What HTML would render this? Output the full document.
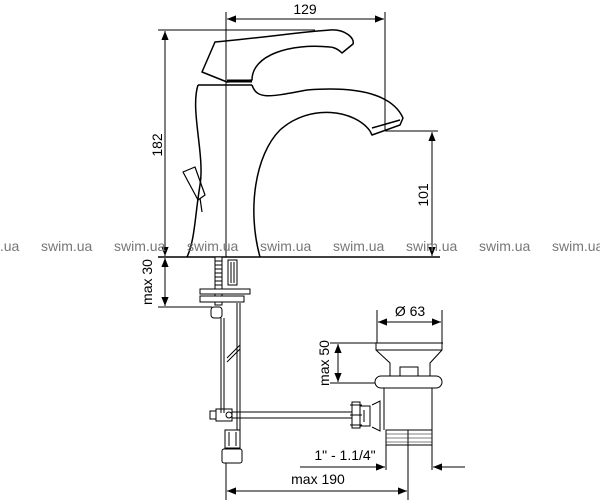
<!DOCTYPE html>
<html><head><meta charset="utf-8"><style>
html,body{margin:0;padding:0;background:#fff;}
svg{display:block;}
text{font-family:"Liberation Sans",sans-serif;}
</style></head><body>
<svg width="600" height="500" viewBox="0 0 600 500" xmlns="http://www.w3.org/2000/svg">
<defs>
<marker id="a" viewBox="0 0 10 10" refX="10" refY="5" markerWidth="9" markerHeight="9" orient="auto-start-reverse" markerUnits="userSpaceOnUse"><path d="M0,1 L10,5 L0,9 z" fill="#000"/></marker>
</defs>
<g fill="none" stroke="#000" stroke-width="1.5" stroke-linejoin="round">
<path d="M215,42 C260,38 300,32 330,30 C345,29 355,38 353,44 L342,53 C336,47 330,47 330,47 C290,43 252,55 252,80 L227,82 L202,72 Z"/>
<line x1="227" y1="81" x2="252" y2="81" stroke-width="3"/>
<path d="M198,85 L252,85"/>
<path d="M252,85 C257,100 270,97 307,90 C370,85 395,100 403,118 L400,125 L372,135 L370,131"/>
<path d="M372,128 L400,120"/>
<path d="M370,131 C355,110 310,103 280,130 C255,155 247,210 260,257"/>
<path d="M198,85 C190,110 205,155 200,185 C195,215 195,240 187,257"/>
<path d="M183,172 L195,167 L205,195 L198,200 Z" stroke-width="1.2"/>
<path d="M200,198 L202,212" stroke-width="1.2"/>
</g>
<g stroke="#000" stroke-width="1" fill="none">
<line x1="226" y1="12" x2="226" y2="257"/>
<line x1="385" y1="12" x2="385" y2="130"/>
<line x1="227" y1="19" x2="384" y2="19" marker-start="url(#a)" marker-end="url(#a)"/>
<line x1="158" y1="30" x2="315" y2="30"/>
<line x1="165" y1="31" x2="165" y2="256" marker-start="url(#a)" marker-end="url(#a)"/>
<line x1="385" y1="131" x2="438" y2="131"/>
<line x1="432" y1="132" x2="432" y2="256" marker-start="url(#a)" marker-end="url(#a)"/>
<line x1="158" y1="257" x2="440" y2="257" stroke-width="1.5"/>
<line x1="165" y1="258" x2="165" y2="306" marker-start="url(#a)" marker-end="url(#a)"/>
<line x1="158" y1="307" x2="212" y2="307"/>
<rect x="215" y="257" width="7" height="48" fill="#fff"/>
<path d="M215,261h7M215,265h7M215,269h7M215,273h7M215,277h7M215,281h7M215,285h7M215,289h7M215,293h7M215,297h7M215,301h7"/>
<rect x="228" y="260" width="9" height="25"/>
<line x1="231" y1="262" x2="231" y2="283"/><line x1="234" y1="262" x2="234" y2="283"/>
<rect x="200" y="289" width="50" height="5" fill="#fff"/>
<rect x="200" y="296" width="44" height="6" fill="#fff"/>
<rect x="211" y="307" width="11" height="11" rx="3"/>
<line x1="221" y1="318" x2="221" y2="413"/><line x1="224" y1="318" x2="224" y2="413"/>
<line x1="237" y1="303" x2="237" y2="430"/><line x1="240" y1="303" x2="240" y2="430"/>
<line x1="227" y1="358" x2="240" y2="345"/><line x1="227" y1="362" x2="240" y2="349"/>
<rect x="210" y="411" width="6" height="8"/>
<rect x="216" y="409" width="16" height="12"/>
<circle cx="229" cy="415" r="3"/>
<line x1="232" y1="412" x2="352" y2="412"/><line x1="232" y1="418" x2="352" y2="418"/>
<path d="M352,402 h8 v26 h-8 z M350,405 h12 M350,415 h12 M350,425 h12"/>
<path d="M360,406 h10 v20 h-10 M364,410 v12 M372,405 l8,-4 v30 l-8,-4"/>
<rect x="225" y="430" width="15" height="18"/>
<line x1="229" y1="432" x2="229" y2="446"/><line x1="236" y1="432" x2="236" y2="446"/>
<rect x="222" y="449" width="20" height="14" rx="2"/>
<line x1="226" y1="463" x2="226" y2="500"/>
<line x1="408" y1="430" x2="408" y2="500"/>
<line x1="227" y1="491" x2="407" y2="491" marker-start="url(#a)" marker-end="url(#a)"/>
<line x1="377" y1="310" x2="377" y2="343"/><line x1="442" y1="310" x2="442" y2="343"/>
<line x1="378" y1="322" x2="441" y2="322" marker-start="url(#a)" marker-end="url(#a)"/>
<line x1="330" y1="343" x2="443" y2="343"/>
<path d="M376,343 L376,350 L390,363 L390,377 M442,343 L442,350 L430,363 L430,377 M376,350 L442,350"/>
<rect x="400" y="367" width="18" height="9"/>
<rect x="375" y="376" width="67" height="12" rx="6" fill="#fff"/>
<line x1="330" y1="383" x2="375" y2="383"/>
<line x1="338" y1="344" x2="338" y2="382" marker-start="url(#a)" marker-end="url(#a)"/>
<path d="M384,388 L384,430 M432,388 L432,470"/>
<rect x="386" y="430" width="46" height="15"/>
<path d="M386,434h46M386,438h46M386,442h46" stroke-width="0.6"/>
<line x1="386" y1="445" x2="386" y2="470"/>
<line x1="408" y1="430" x2="408" y2="445"/>
<line x1="300" y1="467" x2="385" y2="467" marker-end="url(#a)"/>
<line x1="465" y1="467" x2="433" y2="467" marker-end="url(#a)"/>
</g>
<g font-size="14" fill="#000">
<text x="305" y="14" text-anchor="middle">129</text>
<text transform="translate(162,145) rotate(-90)" text-anchor="middle">182</text>
<text transform="translate(428,195) rotate(-90)" text-anchor="middle">101</text>
<text transform="translate(152,282) rotate(-90)" text-anchor="middle">max 30</text>
<text transform="translate(329,363) rotate(-90)" text-anchor="middle">max 50</text>
<text x="410" y="316" text-anchor="middle">Ø 63</text>
<text x="345" y="460" text-anchor="middle">1" - 1.1/4"</text>
<text x="318" y="484" text-anchor="middle">max 190</text>
</g>
<g font-size="14" fill="#777">
<text x="-32" y="251">swim.ua</text><text x="41" y="251">swim.ua</text><text x="114" y="251">swim.ua</text>
<text x="187" y="251">swim.ua</text><text x="260" y="251">swim.ua</text><text x="333" y="251">swim.ua</text>
<text x="406" y="251">swim.ua</text><text x="479" y="251">swim.ua</text><text x="552" y="251">swim.ua</text>
</g>
</svg>
</body></html>
